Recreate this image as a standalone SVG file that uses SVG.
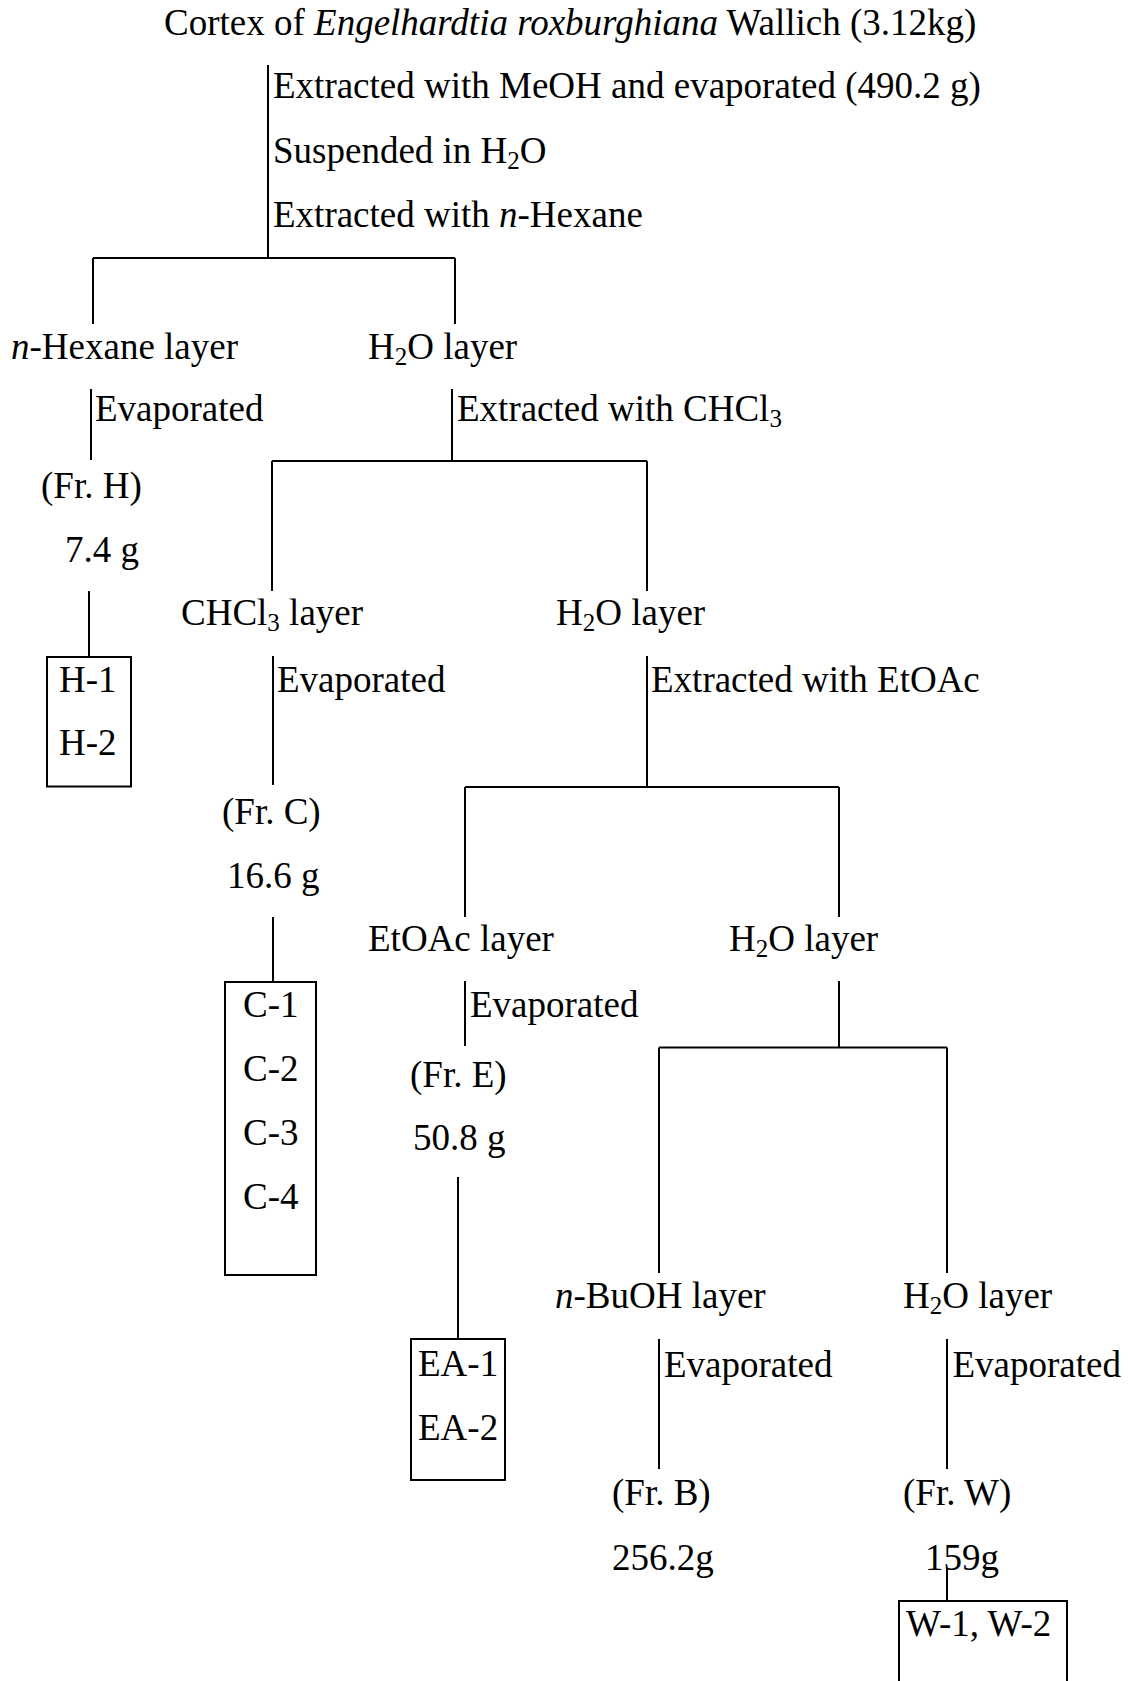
<svg xmlns="http://www.w3.org/2000/svg" width="1128" height="1681" viewBox="0 0 1128 1681">
<style>
text{font-family:"Liberation Serif","Times New Roman",serif;font-size:37px;fill:#000}
.i{font-style:italic}
.s{font-size:25px}
.ln{stroke:#000;stroke-width:2;fill:none}
.box{stroke:#000;stroke-width:2;fill:#fff}
</style>
<rect width="1128" height="1681" fill="#fff"/>
<g id="connectors" class="ln">
<path d="M268 65V258M93 258H455M93 258V324M455 258V324"/>
<path d="M91 389V460"/>
<path d="M452 389V461M272 461H647M272 461V591M647 461V591"/>
<path d="M89 591V657"/>
<path d="M273 656V785"/>
<path d="M647 656V787M465 787H839M465 787V917M839 787V917"/>
<path d="M273 917V982"/>
<path d="M465 981V1046"/>
<path d="M839 981V1047.5M659 1047.5H947M659 1047.5V1273M947 1047.5V1273"/>
<path d="M458 1177V1339"/>
<path d="M659 1339V1469M947 1339V1469"/>
<path d="M947 1569V1601"/>
</g>
<g id="n-root">
<text x="164" y="35">Cortex of <tspan class="i">Engelhardtia roxburghiana</tspan> Wallich (3.12kg)</text>
</g>
<g id="step-1">
<text x="273" y="98">Extracted with MeOH and evaporated (490.2 g)</text>
<text x="273" y="163">Suspended in H<tspan class="s" dy="6">2</tspan><tspan dy="-6">O</tspan></text>
<text x="273" y="227">Extracted with <tspan class="i">n</tspan>-Hexane</text>
</g>
<g id="n-hexane-layer"><text x="11" y="358.5"><tspan class="i">n</tspan>-Hexane layer</text></g>
<g id="n-h2o-layer-1"><text x="368" y="358.5">H<tspan class="s" dy="6">2</tspan><tspan dy="-6">O layer</tspan></text></g>
<g id="e-evap-h"><text x="95" y="421">Evaporated</text></g>
<g id="e-chcl3"><text x="457" y="421">Extracted with CHCl<tspan class="s" dy="6">3</tspan></text></g>
<g id="n-fr-h">
<text x="41" y="498">(Fr. H)</text>
<text x="65" y="562">7.4 g</text>
</g>
<g id="n-box-h">
<rect class="box" x="47" y="657" width="84" height="129.5"/>
<text x="59" y="691.5">H-1</text>
<text x="59" y="755">H-2</text>
</g>
<g id="n-chcl3-layer"><text x="181" y="625">CHCl<tspan class="s" dy="6">3</tspan><tspan dy="-6"> layer</tspan></text></g>
<g id="n-h2o-layer-2"><text x="556" y="625">H<tspan class="s" dy="6">2</tspan><tspan dy="-6">O layer</tspan></text></g>
<g id="e-evap-c"><text x="277" y="691.5">Evaporated</text></g>
<g id="e-etoac"><text x="651" y="691.5">Extracted with EtOAc</text></g>
<g id="n-fr-c">
<text x="222" y="823.5">(Fr. C)</text>
<text x="227" y="888">16.6 g</text>
</g>
<g id="n-box-c">
<rect class="box" x="225" y="982" width="91" height="293"/>
<text x="243" y="1016.5">C-1</text>
<text x="243" y="1080.5">C-2</text>
<text x="243" y="1145">C-3</text>
<text x="243" y="1209">C-4</text>
</g>
<g id="n-etoac-layer"><text x="368" y="951">EtOAc layer</text></g>
<g id="n-h2o-layer-3"><text x="729" y="951">H<tspan class="s" dy="6">2</tspan><tspan dy="-6">O layer</tspan></text></g>
<g id="e-evap-e"><text x="470" y="1016.5">Evaporated</text></g>
<g id="n-fr-e">
<text x="410" y="1087">(Fr. E)</text>
<text x="413" y="1150">50.8 g</text>
</g>
<g id="n-box-ea">
<rect class="box" x="411" y="1339" width="94" height="141"/>
<text x="418" y="1375.5">EA-1</text>
<text x="418" y="1439.5">EA-2</text>
</g>
<g id="n-buoh-layer"><text x="555" y="1308"><tspan class="i">n</tspan>-BuOH layer</text></g>
<g id="n-h2o-layer-4"><text x="903" y="1308">H<tspan class="s" dy="6">2</tspan><tspan dy="-6">O layer</tspan></text></g>
<g id="e-evap-b"><text x="664" y="1377">Evaporated</text></g>
<g id="e-evap-w"><text x="952.5" y="1377">Evaporated</text></g>
<g id="n-fr-b">
<text x="612" y="1505">(Fr. B)</text>
<text x="612" y="1570">256.2g</text>
</g>
<g id="n-fr-w">
<text x="903" y="1505">(Fr. W)</text>
<text x="925" y="1570">159g</text>
</g>
<g id="n-box-w">
<rect class="box" x="899" y="1601" width="168" height="100"/>
<text x="906" y="1636">W-1, W-2</text>
</g>
</svg>
